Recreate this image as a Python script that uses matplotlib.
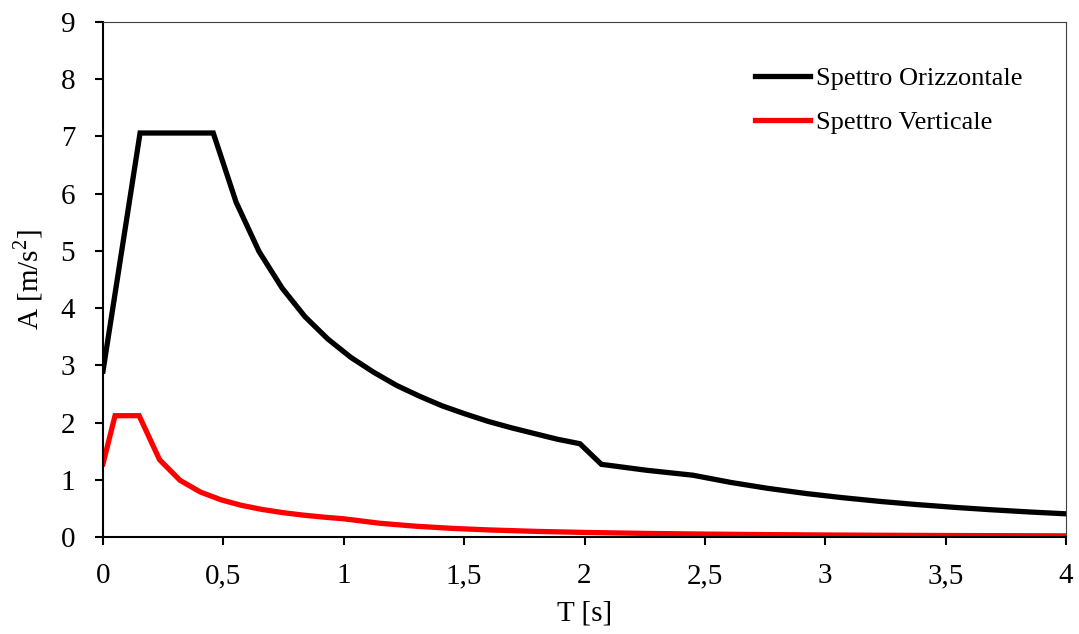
import numpy as np
import matplotlib
matplotlib.use('Agg')
import matplotlib.pyplot as plt

plt.rcParams['font.family'] = 'Liberation Serif'
plt.rcParams['mathtext.fontset'] = 'custom'
plt.rcParams['mathtext.rm'] = 'Liberation Serif'

# Spettro orizzontale
t_oriz = [0.0, 0.154, 0.458, 0.553, 0.648, 0.744, 0.839, 0.934, 1.029, 1.124,
          1.219, 1.315, 1.410, 1.505, 1.600, 1.695, 1.790, 1.886, 1.981,
          2.070, 2.260, 2.450, 2.61, 2.76, 2.92, 3.07, 3.23, 3.38, 3.54,
          3.69, 3.85, 4.0]
a_oriz = [2.90, 7.06, 7.06, 5.85, 4.99, 4.35, 3.85, 3.46, 3.14, 2.88,
          2.65, 2.46, 2.29, 2.15, 2.02, 1.91, 1.81, 1.71, 1.63,
          1.27, 1.165, 1.08, 0.952, 0.851, 0.760, 0.688, 0.621, 0.567, 0.517,
          0.476, 0.437, 0.405]

# Spettro verticale
t_vert = [0.0, 0.05, 0.15, 0.235, 0.32, 0.405, 0.49, 0.575, 0.66, 0.745,
          0.83, 0.915, 1.0, 1.15, 1.3, 1.45, 1.6, 1.8, 2.0, 2.25, 2.5,
          2.75, 3.0, 3.25, 3.5, 3.75, 4.0]
a_vert = [1.28, 2.12, 2.12, 1.35, 0.99, 0.785, 0.65, 0.553, 0.482, 0.427,
          0.383, 0.348, 0.318, 0.240, 0.188, 0.151, 0.124, 0.098, 0.080,
          0.063, 0.051, 0.042, 0.035, 0.030, 0.026, 0.023, 0.020]

xticks = [0, 0.5, 1, 1.5, 2, 2.5, 3, 3.5, 4]
xlabels = ['0', '0,5', '1', '1,5', '2', '2,5', '3', '3,5', '4']
yticks = list(range(10))

fig = plt.figure(figsize=(10.79, 6.34), dpi=100)
ax = fig.add_axes([103/1079, 1-537/634, 963/1079, 515/634])

ax.plot(t_oriz, a_oriz, color='black', lw=3.8, solid_joinstyle='miter',
        label='Spettro Orizzontale')
ax.plot(t_vert, a_vert, color='#ff0000', lw=3.8, solid_joinstyle='miter',
        label='Spettro Verticale')

ax.set_xlim(0, 4)
ax.set_ylim(0, 9)
ax.set_xticks(xticks)
ax.set_xticklabels(xlabels)
ax.set_yticks(yticks)
ax.tick_params(direction='out', length=6, width=1.5, labelsize=21)
ax.tick_params(axis='x', pad=13)
ax.tick_params(axis='y', pad=14)

for s in ['left', 'bottom']:
    ax.spines[s].set_linewidth(1.5)
    ax.spines[s].set_color('black')
for s in ['top', 'right']:
    ax.spines[s].set_linewidth(0.8)
    ax.spines[s].set_color('#404040')

ax.set_xlabel('T [s]', fontsize=21, labelpad=8)
ax.set_ylabel(r'A [m/s$^{2}$]', fontsize=21, labelpad=11)

ax.legend(loc='upper left', bbox_to_anchor=(755/1079, 1-67/634),
          bbox_transform=fig.transFigure, frameon=False, fontsize=19,
          handlelength=2.1, handletextpad=0.2, labelspacing=0.77,
          borderpad=0, borderaxespad=0)

fig.savefig('out.png', dpi=100)
